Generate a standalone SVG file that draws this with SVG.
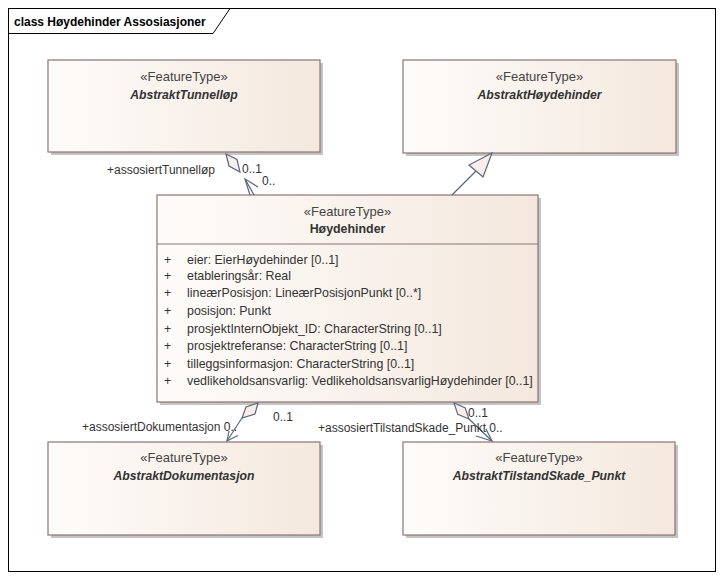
<svg xmlns="http://www.w3.org/2000/svg" width="726" height="580" viewBox="0 0 726 580">
<defs>
<linearGradient id="boxfill" x1="0" y1="0" x2="1" y2="0">
<stop offset="0" stop-color="#fefcfa"/>
<stop offset="1" stop-color="#f4e8de"/>
</linearGradient>
<style>
text{font-family:"Liberation Sans",Arial,sans-serif;font-size:12.4px;fill:#333}
.box{fill:url(#boxfill);stroke:#8c7474;stroke-width:1.2}
.shadow{fill:#c4c4c4}
.st{text-anchor:middle;fill:#444;font-size:13px}
.nm{text-anchor:middle;font-weight:bold;font-style:italic;fill:#333;font-size:12.2px}
.nb{text-anchor:middle;font-weight:bold;fill:#333}
.div{stroke:#8c7474;stroke-width:1.2}
.con{fill:none;stroke:#5c6680;stroke-width:1.2}
.dia{fill:#f9efe8;stroke:#5c6680;stroke-width:1.2}
.lbl{fill:#333;font-size:12px}
.title{font-weight:bold;fill:#000;font-size:12px}
</style>
</defs>
<rect x="0" y="0" width="726" height="580" fill="#fff"/>
<g id="frame">
<rect x="8.5" y="8.5" width="707" height="563" fill="none" stroke="#000" stroke-width="1"/>
<path d="M8.5 33.5 H213 L230 8.5" fill="none" stroke="#000" stroke-width="1"/>
<text class="title" x="14" y="26">class Høydehinder Assosiasjoner</text>
</g>
<g id="AbstraktTunnellop">
<rect class="shadow" x="51" y="63" width="272" height="92"/>
<rect class="box" x="48" y="60" width="272" height="92"/>
<text class="st" x="184" y="81">«FeatureType»</text>
<text class="nm" x="184" y="99">AbstraktTunnelløp</text>
</g>
<g id="AbstraktHoydehinder">
<rect class="shadow" x="406" y="63" width="273" height="93"/>
<rect class="box" x="403" y="60" width="273" height="93"/>
<text class="st" x="539.5" y="81">«FeatureType»</text>
<text class="nm" x="539.5" y="99">AbstraktHøydehinder</text>
</g>
<g id="Hoydehinder">
<rect class="shadow" x="160" y="198" width="381" height="207"/>
<rect class="box" x="157" y="195" width="381" height="207"/>
<line class="div" x1="157" y1="244" x2="538" y2="244"/>
<text class="st" x="347.5" y="216">«FeatureType»</text>
<text class="nb" x="347.5" y="233">Høydehinder</text>
<g>
<text x="164" y="264">+</text><text x="187" y="264">eier: EierHøydehinder [0..1]</text>
<text x="164" y="280">+</text><text x="187" y="280">etableringsår: Real</text>
<text x="164" y="297">+</text><text x="187" y="297">lineærPosisjon: LineærPosisjonPunkt [0..*]</text>
<text x="164" y="315">+</text><text x="187" y="315">posisjon: Punkt</text>
<text x="164" y="333">+</text><text x="187" y="333">prosjektInternObjekt_ID: CharacterString [0..1]</text>
<text x="164" y="350">+</text><text x="187" y="350">prosjektreferanse: CharacterString [0..1]</text>
<text x="164" y="368">+</text><text x="187" y="368">tilleggsinformasjon: CharacterString [0..1]</text>
<text x="164" y="385">+</text><text x="187" y="385">vedlikeholdsansvarlig: VedlikeholdsansvarligHøydehinder [0..1]</text>
</g>
</g>
<g id="AbstraktDokumentasjon">
<rect class="shadow" x="51" y="445" width="272" height="93"/>
<rect class="box" x="48" y="442" width="272" height="93"/>
<text class="st" x="184" y="462">«FeatureType»</text>
<text class="nm" x="184" y="480">AbstraktDokumentasjon</text>
</g>
<g id="AbstraktTilstandSkade_Punkt">
<rect class="shadow" x="406" y="445" width="272" height="93"/>
<rect class="box" x="403" y="442" width="272" height="93"/>
<text class="st" x="539" y="462">«FeatureType»</text>
<text class="nm" x="539" y="480">AbstraktTilstandSkade_Punkt</text>
</g>
<g id="connectors">
<line class="con" x1="245" y1="179" x2="254" y2="195"/>
<polyline class="con" points="258,187 245,179 250,195"/>
<polygon class="dia" points="226,154 237,159.5 240,172 229,166"/>
<line class="con" x1="452" y1="195" x2="476" y2="171"/>
<polygon class="dia" points="492,153 483,177 469,165"/>
<polygon class="dia" points="258,403 255,414 242,418 246,407"/>
<line class="con" x1="242" y1="418" x2="227" y2="441"/>
<polyline class="con" points="238,435.5 227,441 229,431"/>
<polygon class="dia" points="454,403 465,407.6 469,419 457.8,414.4"/>
<line class="con" x1="469" y1="419" x2="492" y2="441"/>
<polyline class="con" points="476,436 492,441 486,429"/>
<text class="lbl" x="107" y="174">+assosiertTunnelløp</text>
<text class="lbl" x="242" y="173">0..1</text>
<text class="lbl" x="262" y="185">0..</text>
<text class="lbl" x="82" y="431">+assosiertDokumentasjon 0..</text>
<text class="lbl" x="273" y="421">0..1</text>
<text class="lbl" x="318" y="432">+assosiertTilstandSkade_Punkt 0..</text>
<text class="lbl" x="468" y="417">0..1</text>
</g>
</svg>
